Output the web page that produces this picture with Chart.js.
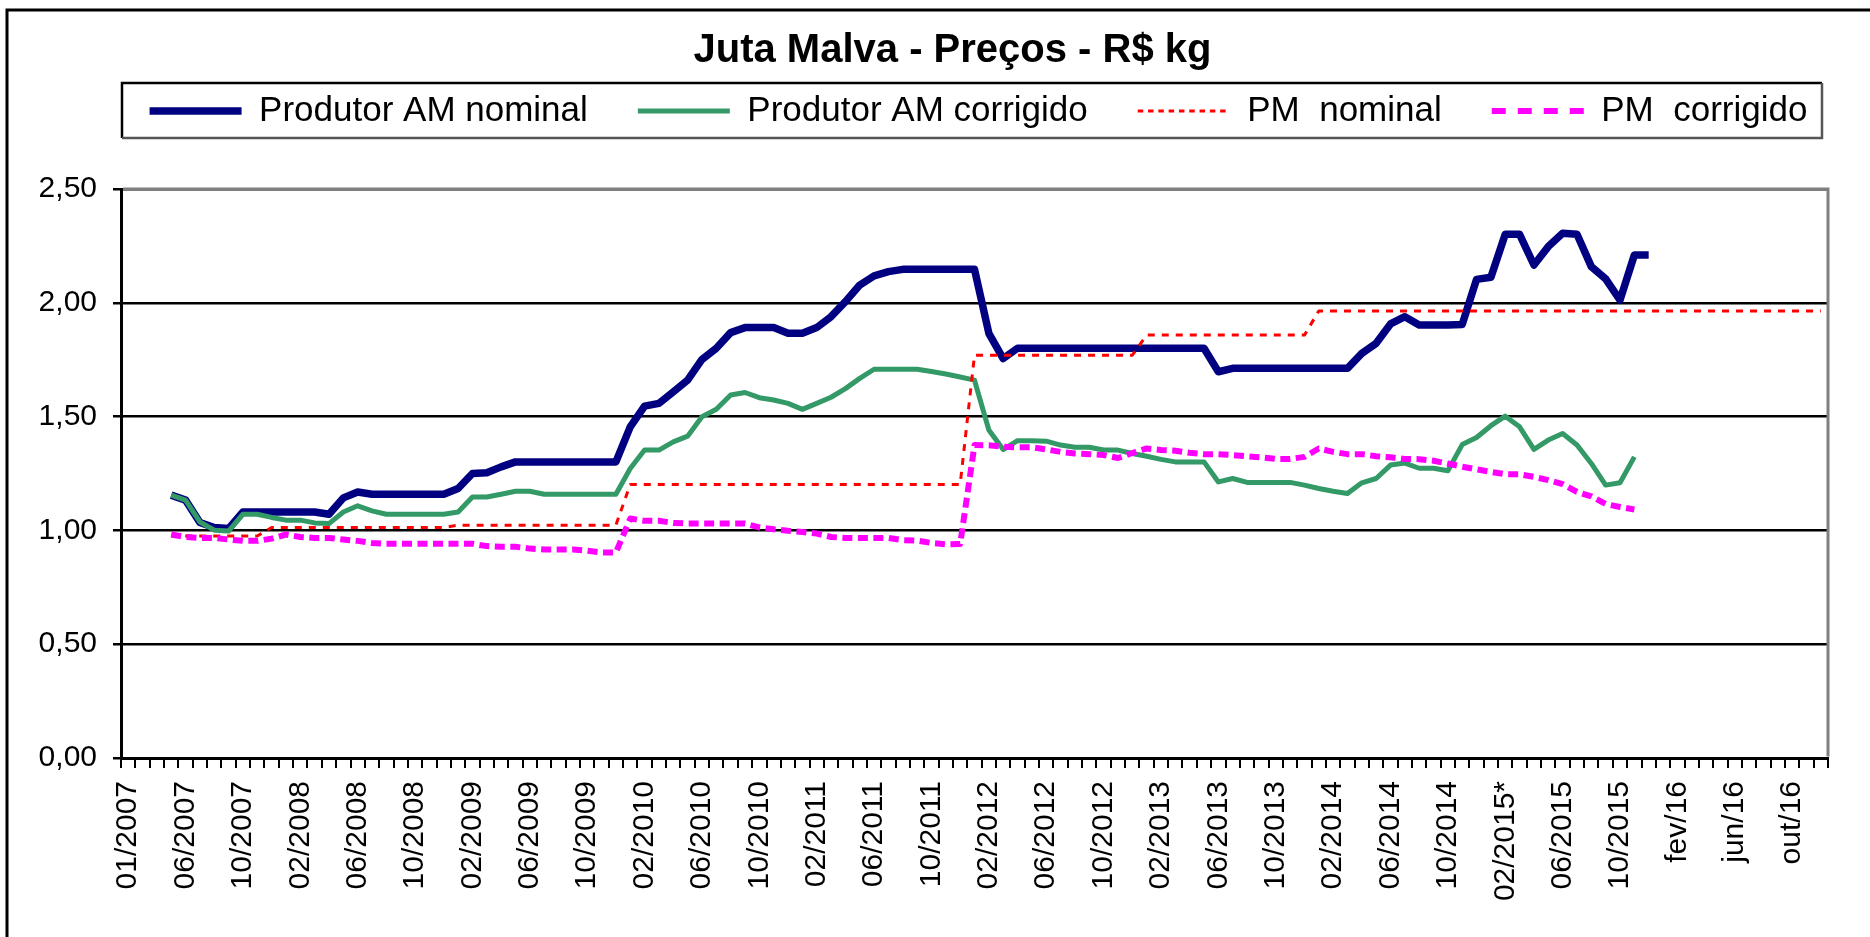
<!DOCTYPE html>
<html>
<head>
<meta charset="utf-8">
<title>Juta Malva - Preços - R$ kg</title>
<style>
  html, body { margin: 0; padding: 0; background: #ffffff; }
  canvas { display: block; }
</style>
<script src="https://cdn.jsdelivr.net/npm/chart.js"></script>
</head>
<body>
<canvas id="chart" width="1870" height="937"></canvas>
<script>
// ---------------- DATA ----------------
const categories = [
  '01/2007','03/2007','04/2007','05/2007','06/2007','07/2007','08/2007','09/2007','10/2007','11/2007','12/2007',
  '01/2008','02/2008','03/2008','04/2008','05/2008','06/2008','07/2008','08/2008','09/2008','10/2008','11/2008','12/2008',
  '01/2009','02/2009','03/2009','04/2009','05/2009','06/2009','07/2009','08/2009','09/2009','10/2009','11/2009','12/2009',
  '01/2010','02/2010','03/2010','04/2010','05/2010','06/2010','07/2010','08/2010','09/2010','10/2010','11/2010','12/2010',
  '01/2011','02/2011','03/2011','04/2011','05/2011','06/2011','07/2011','08/2011','09/2011','10/2011','11/2011','12/2011',
  '01/2012','02/2012','03/2012','04/2012','05/2012','06/2012','07/2012','08/2012','09/2012','10/2012','11/2012','12/2012',
  '01/2013','02/2013','03/2013','04/2013','05/2013','06/2013','07/2013','08/2013','09/2013','10/2013','11/2013','12/2013',
  '01/2014','02/2014','03/2014','04/2014','05/2014','06/2014','07/2014','08/2014','09/2014','10/2014','11/2014','12/2014',
  '01/2015','02/2015*','03/2015','04/2015','05/2015','06/2015','07/2015','08/2015','09/2015','10/2015','nov/15','dez/15',
  'jan/16','fev/16','mar/16','abr/16','mai/16','jun/16','jul/16','ago/16','set/16','out/16','nov/16','dez/16'
];

const produtorNominal = [
  null,null,null,
  1.155,1.133,1.035,1.013,1.008,
  1.081,1.081,1.081,1.081,1.081,1.081,1.071,
  1.143,1.169,1.159,1.159,1.159,1.159,1.159,1.159,
  1.184,1.250,1.253,1.279,1.301,1.301,1.301,1.301,1.301,1.301,1.301,1.301,
  1.455,1.546,1.558,1.609,1.660,1.751,1.800,1.869,1.891,1.891,1.891,1.866,
  1.866,1.891,1.939,2.005,2.078,2.118,2.137,2.147,2.147,2.147,2.147,2.147,
  2.147,1.866,1.755,1.800,1.800,1.800,1.800,1.800,1.800,1.800,1.800,1.800,
  1.800,1.800,1.800,1.800,1.800,1.697,1.712,1.712,1.712,1.712,1.712,1.712,
  1.712,1.712,1.712,1.778,1.822,1.907,1.939,1.902,1.902,1.902,1.905,2.103,
  2.112,2.301,2.301,2.166,2.247,2.306,2.301,2.159,2.105,2.012,2.210,2.210,
  null,null,null,null,null,null,null,null,null,null,null,null
];

const produtorCorrigido = [
  null,null,null,
  1.155,1.133,1.037,1.001,0.997,
  1.071,1.071,1.057,1.045,1.045,1.033,1.030,
  1.081,1.108,1.086,1.071,1.071,1.071,1.071,1.071,
  1.081,1.147,1.147,1.159,1.172,1.172,1.159,1.159,1.159,1.159,1.159,1.159,
  1.272,1.353,1.353,1.389,1.414,1.499,1.532,1.595,1.606,1.583,1.573,1.558,
  1.532,1.558,1.585,1.623,1.668,1.708,1.708,1.708,1.708,1.698,1.687,1.674,
  1.660,1.441,1.355,1.394,1.394,1.392,1.375,1.365,1.365,1.353,1.353,1.338,
  1.326,1.312,1.301,1.301,1.301,1.213,1.228,1.211,1.211,1.211,1.211,1.199,
  1.184,1.172,1.162,1.209,1.228,1.287,1.296,1.273,1.273,1.262,1.377,1.408,
  1.460,1.502,1.455,1.356,1.397,1.426,1.375,1.294,1.199,1.209,1.323,
  null,null,null,null,null,null,null,null,null,null,null,null,null
];

const pmNominal = [
  null,null,null,
  0.975,0.975,0.975,0.975,0.975,0.975,0.975,
  1.013,1.013,1.013,1.013,1.013,1.013,1.013,1.013,1.013,1.013,1.013,1.013,1.013,
  1.023,1.023,1.023,1.023,1.023,1.023,1.023,1.023,1.023,1.023,1.023,1.023,
  1.202,1.202,1.202,1.202,1.202,1.202,1.202,1.202,1.202,1.202,1.202,1.202,
  1.202,1.202,1.202,1.202,1.202,1.202,1.202,1.202,1.202,1.202,1.202,1.202,
  1.770,1.770,1.770,1.770,1.770,1.770,1.770,1.770,1.770,1.770,1.770,1.770,
  1.858,1.858,1.858,1.858,1.858,1.858,1.858,1.858,1.858,1.858,1.858,1.858,
  1.964,1.964,1.964,1.964,1.964,1.964,1.964,1.964,1.964,1.964,1.964,1.964,
  1.964,1.964,1.964,1.964,1.964,1.964,1.964,1.964,1.964,1.964,1.964,1.964,
  1.964,1.964,1.964,1.964,1.964,1.964,1.964,1.964,1.964,1.964,1.964,1.964
];

const pmCorrigido = [
  null,null,null,
  0.982,0.971,0.967,0.967,0.960,0.954,0.954,0.964,0.982,0.971,0.967,0.967,
  0.960,0.954,0.945,0.941,0.941,0.941,0.941,0.941,0.941,0.941,0.931,0.928,
  0.928,0.920,0.916,0.916,0.916,0.911,0.903,0.903,1.052,1.042,1.042,1.033,
  1.030,1.030,1.030,1.030,1.030,1.013,1.005,0.998,0.993,0.986,0.971,0.967,
  0.967,0.967,0.967,0.957,0.955,0.945,0.939,0.940,1.375,1.374,1.368,1.365,
  1.365,1.356,1.345,1.338,1.335,1.331,1.318,1.340,1.360,1.353,1.350,1.341,
  1.335,1.335,1.331,1.326,1.321,1.314,1.314,1.323,1.360,1.345,1.335,1.335,
  1.326,1.321,1.314,1.313,1.306,1.294,1.280,1.268,1.257,1.247,1.247,1.235,
  1.221,1.203,1.169,1.150,1.116,1.103,1.092,
  null,null,null,null,null,null,null,null,null,null,null,null,null
];

const seriesNames = ['Produtor AM nominal', 'Produtor AM corrigido', 'PM  nominal', 'PM  corrigido'];
const chartTitle = 'Juta Malva - Preços - R$ kg';
const yMin = 0, yMax = 2.5, yStep = 0.5;
const labelEvery = 4;

// ---------------- CHART ----------------
Chart.defaults.font.family = "'Liberation Sans', Arial, Helvetica, sans-serif";
Chart.defaults.color = '#000000';

const LEGEND_PAD = 50;
const LEGEND_FONT = 35;
// dash patterns used for the legend samples (the legend keys are drawn with longer dashes)
const legendDash = [[], [], [5.5, 4.8], [14, 12]];

const decorPlugin = {
  id: 'decor',
  beforeDraw(chart) {
    const { ctx, width, height } = chart;
    ctx.save();
    ctx.fillStyle = '#ffffff';
    ctx.fillRect(0, 0, width, height);
    ctx.strokeStyle = '#000000';
    ctx.lineWidth = 3;
    ctx.beginPath();
    ctx.moveTo(7, height);
    ctx.lineTo(7, 10);
    ctx.lineTo(width, 10);
    ctx.stroke();
    ctx.restore();
  },
  afterLayout(chart) {
    const a = chart.chartArea;
    const mid = (a.left + a.right) / 2;
    const shift = (box, target) => {
      if (!box) return;
      const d = target - (box.left + box.right) / 2;
      box.left += d; box.right += d;
    };
    shift(chart.titleBlock, mid - 22);
    shift(chart.legend, mid + 4);
  },
  afterDraw(chart) {
    const { ctx, chartArea: a, legend } = chart;
    ctx.save();
    // plot-area border (grey, top and right)
    ctx.strokeStyle = '#808080';
    ctx.lineWidth = 3;
    ctx.beginPath();
    ctx.moveTo(a.left + 2, a.top);
    ctx.lineTo(a.right, a.top);
    ctx.lineTo(a.right, a.bottom - 1.5);
    ctx.stroke();
    // legend frame
    const cy = legend.top + LEGEND_PAD + LEGEND_FONT / 2;
    const top = cy - 28, bottom = cy + 27;
    const left = a.left + 1, right = a.right - 6;
    ctx.lineWidth = 2.5;
    ctx.strokeStyle = '#000000';
    ctx.beginPath();
    ctx.moveTo(left, bottom);
    ctx.lineTo(left, top);
    ctx.lineTo(right, top);
    ctx.stroke();
    ctx.strokeStyle = '#555555';
    ctx.beginPath();
    ctx.moveTo(right, top);
    ctx.lineTo(right, bottom);
    ctx.lineTo(left, bottom);
    ctx.stroke();
    ctx.restore();
  }
};

const datasets = [
  { label: seriesNames[0], data: produtorNominal, borderColor: '#000080', backgroundColor: '#000080',
    borderWidth: 7.5, order: 4 },
  { label: seriesNames[1], data: produtorCorrigido, borderColor: '#339966', backgroundColor: '#339966',
    borderWidth: 5, order: 3 },
  { label: seriesNames[2], data: pmNominal, borderColor: '#FF0000', backgroundColor: '#FF0000',
    borderWidth: 3, borderDash: [7, 7], order: 2 },
  { label: seriesNames[3], data: pmCorrigido, borderColor: '#FF00FF', backgroundColor: '#FF00FF',
    borderWidth: 6, borderDash: [10, 5.5], order: 1 }
].map(d => Object.assign({
  xAxisID: 'x', yAxisID: 'y', pointRadius: 0, pointHoverRadius: 0, tension: 0,
  fill: false, spanGaps: false, borderJoinStyle: 'round', borderCapStyle: 'butt'
}, d));

new Chart(document.getElementById('chart'), {
  type: 'line',
  data: { labels: categories, datasets },
  plugins: [decorPlugin],
  options: {
    responsive: false,
    animation: false,
    events: [],
    layout: { padding: { left: 0, right: 39, top: 0, bottom: 0 } },
    plugins: {
      tooltip: { enabled: false },
      title: {
        display: true,
        text: chartTitle,
        color: '#000000',
        font: { size: 40, weight: 'bold', lineHeight: 1 },
        padding: { top: 31, bottom: -27.5 }
      },
      legend: {
        display: true,
        position: 'top',
        labels: {
          usePointStyle: true,
          pointStyle: 'line',
          pointStyleWidth: 92,
          padding: LEGEND_PAD,
          color: '#000000',
          font: { size: LEGEND_FONT },
          sort: (a, b) => a.datasetIndex - b.datasetIndex,
          generateLabels: chart => {
            const items = Chart.defaults.plugins.legend.labels.generateLabels(chart);
            items.forEach(it => {
              const ds = chart.data.datasets[it.datasetIndex];
              it.lineDash = legendDash[it.datasetIndex];
              it.lineWidth = ds.borderWidth;
              it.strokeStyle = ds.borderColor;
              it.lineCap = 'butt';
            });
            return items;
          }
        }
      }
    },
    scales: {
      x: {
        type: 'category',
        position: 'bottom',
        offset: true,
        ticks: {
          autoSkip: false,
          minRotation: 90,
          maxRotation: 90,
          padding: 13,
          color: '#000000',
          font: { size: 30 },
          callback: (v, i) => (i % labelEvery === 0 ? categories[i] : '')
        },
        grid: {
          display: true,
          drawOnChartArea: false,
          drawTicks: true,
          tickLength: 10,
          color: '#000000',
          lineWidth: 2,
          offset: true
        },
        border: { display: true, color: '#000000', width: 3 },
        afterFit: s => { s.height = 179; }
      },
      xTop: {
        type: 'category',
        position: 'top',
        display: true,
        grid: { display: false, drawTicks: false },
        ticks: { display: false },
        border: { display: false },
        afterFit: s => { s.height = 50.5; }
      },
      y: {
        type: 'linear',
        position: 'left',
        min: yMin,
        max: yMax,
        ticks: {
          stepSize: yStep,
          padding: 16,
          color: '#000000',
          font: { size: 30 },
          callback: v => Number(v).toFixed(2).replace('.', ',')
        },
        grid: { color: '#000000', lineWidth: 2.5, tickLength: 8, drawTicks: true },
        border: { display: true, color: '#000000', width: 3 },
        afterFit: s => { s.width = 121; }
      }
    }
  }
});
</script>
</body>
</html>
